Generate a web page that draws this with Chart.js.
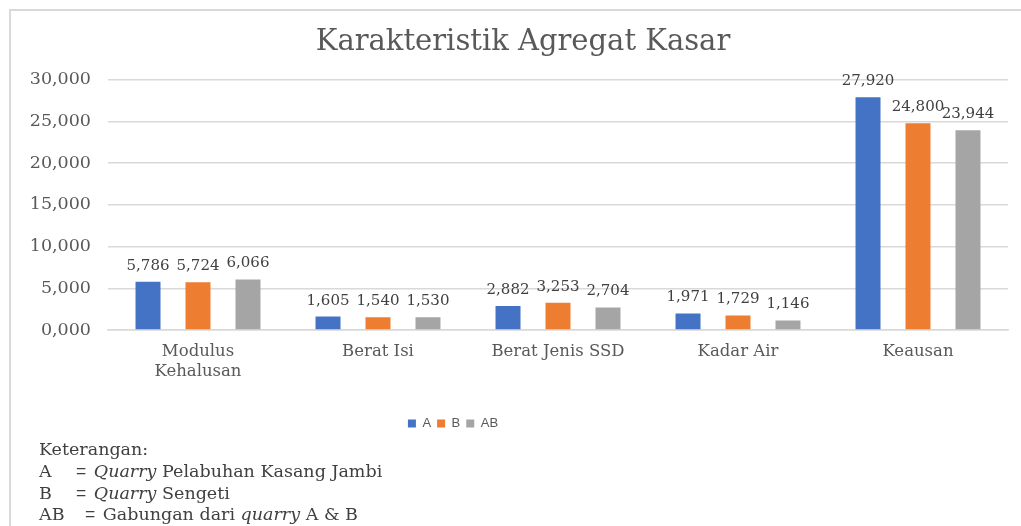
<!DOCTYPE html>
<html>
<head>
<meta charset="utf-8">
<script src="https://cdn.jsdelivr.net/npm/chart.js@4.4.1/dist/chart.umd.min.js"></script>
<style>
  html, body { margin: 0; padding: 0; background: #fff; overflow: hidden; }
  #wrap { position: relative; width: 1021px; height: 526px; overflow: hidden; }
  #grafico { position: absolute; left: 0; top: 0; }
  #keterangan { position: absolute; left: 39px; top: 439px; font-family: "DejaVu Serif", serif;
                font-size: 17.5px; color: #404040; line-height: 21.8px; white-space: nowrap; }
  #keterangan .k { display: inline-block; width: 37px; }
  #keterangan .eq { font-family: "Liberation Sans", sans-serif; margin-right: 2px; }
</style>
</head>
<body>
<div id="wrap">
  <canvas id="grafico" width="1021" height="526"></canvas>
  <div id="keterangan">
    <div>Keterangan:</div>
    <div><span class="k">A</span><span class="eq">=</span> <i>Quarry</i> Pelabuhan Kasang Jambi</div>
    <div><span class="k">B</span><span class="eq">=</span> <i>Quarry</i> Sengeti</div>
    <div><span class="k" style="width:46px">AB</span><span class="eq">=</span> Gabungan dari <i>quarry</i> A &amp; B</div>
  </div>
</div>
<script>
// Datos
const kategori = [['Modulus', 'Kehalusan'], 'Berat Isi', 'Berat Jenis SSD', 'Kadar Air', 'Keausan'];
const nilaiA = [5.786, 1.605, 2.882, 1.971, 27.920];
const nilaiB = [5.724, 1.540, 3.253, 1.729, 24.800];
const nilaiAB = [6.066, 1.530, 2.704, 1.146, 23.944];
const ticksY = [0, 5, 10, 15, 20, 25, 30];

const fmt = (v) => Number(v).toFixed(3).replace('.', ',');
const serif = '"DejaVu Serif", serif';
const abu = '#595959';

// Marco gris (solo lados izquierdo y superior visibles)
const bingkai = {
    id: 'bingkai',
    beforeDraw(chart) {
        const ctx = chart.ctx;
        ctx.save();
        ctx.strokeStyle = '#d9d9d9';
        ctx.lineWidth = 2;
        ctx.beginPath();
        ctx.moveTo(10, chart.height);
        ctx.lineTo(10, 10);
        ctx.lineTo(chart.width, 10);
        ctx.stroke();
        ctx.restore();
    }
};

// Etiquetas de valor sobre cada barra
const labelBarras = {
    id: 'labelBarras',
    afterDatasetsDraw(chart) {
        const ctx = chart.ctx;
        ctx.save();
        ctx.font = '15px ' + serif;
        ctx.fillStyle = '#404040';
        ctx.textAlign = 'center';
        ctx.textBaseline = 'middle';
        chart.data.datasets.forEach((ds, i) => {
            chart.getDatasetMeta(i).data.forEach((bar, j) => {
                ctx.fillText(fmt(ds.data[j]), bar.x, bar.y - 16);
            });
        });
        ctx.restore();
    }
};

// Ajuste de posición de leyenda y título, como en el original
const geser = {
    id: 'geser',
    afterLayout(chart) {
        const lg = chart.legend;
        if (lg) { lg.left -= 56; lg.right -= 56; }
        const tt = chart.titleBlock;
        if (tt) { tt.left += 14; tt.right += 14; }
    }
};

new Chart(document.getElementById('grafico').getContext('2d'), {
    type: 'bar',
    data: {
        labels: kategori,
        datasets: [
            { label: 'A', data: nilaiA, backgroundColor: '#4472C4' },
            { label: 'B', data: nilaiB, backgroundColor: '#ED7D31' },
            { label: 'AB', data: nilaiAB, backgroundColor: '#A5A5A5' }
        ]
    },
    options: {
        responsive: false,
        animation: false,
        categoryPercentage: 0.833,
        barPercentage: 0.5,
        layout: { padding: { left: 10, right: 13, top: 10, bottom: 86 } },
        plugins: {
            title: {
                display: true,
                text: 'Karakteristik Agregat Kasar',
                color: abu,
                font: { family: serif, size: 29, weight: 'normal' },
                padding: { top: 15, bottom: 20 }
            },
            legend: {
                position: 'bottom',
                labels: {
                    color: abu,
                    font: { family: '"Liberation Sans", sans-serif', size: 13 },
                    boxWidth: 8,
                    boxHeight: 8,
                    padding: 6
                }
            },
            tooltip: { enabled: false }
        },
        scales: {
            y: {
                min: 0,
                max: 30,
                afterBuildTicks: (scale) => { scale.ticks = ticksY.map(v => ({ value: v })); },
                afterFit: (scale) => { scale.width = 98; },
                border: { display: false },
                grid: { color: '#d9d9d9', lineWidth: 1.5, drawTicks: false },
                ticks: {
                    color: abu,
                    padding: 17,
                    font: { family: serif, size: 17.5 },
                    callback: (v) => fmt(v)
                }
            },
            x: {
                afterFit: (scale) => { scale.height = 81; },
                border: { color: '#d9d9d9', width: 1.5 },
                grid: { display: false },
                ticks: {
                    color: abu,
                    padding: 4,
                    maxRotation: 0,
                    font: { family: serif, size: 16.5 }
                }
            }
        }
    },
    plugins: [bingkai, labelBarras, geser]
});
</script>
</body>
</html>
